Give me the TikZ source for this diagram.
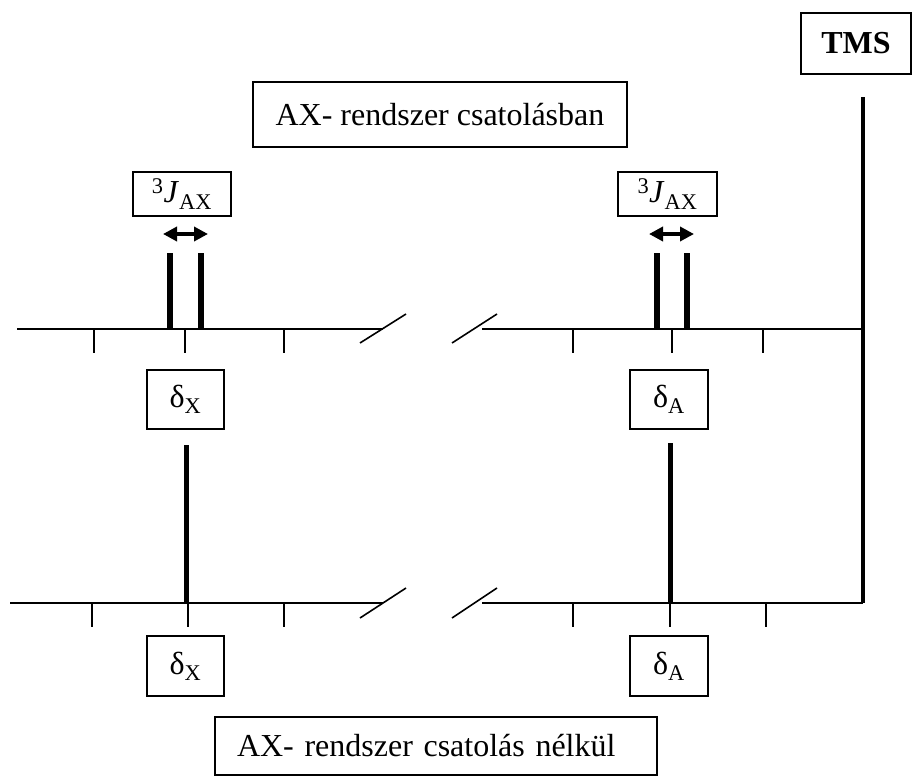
\documentclass[tikz,border=0pt]{standalone}
\usepackage{fontspec}
\setmainfont{Liberation Serif}
\usetikzlibrary{arrows.meta}
\begin{document}
\begin{tikzpicture}[x=1pt,y=-1pt,
  lbl/.style={draw,line width=1.5pt,inner sep=0pt,font=\fontsize{32}{38}\selectfont},
  axisline/.style={line width=1.8pt},
  tickline/.style={line width=1.6pt},
  peak/.style={line width=6pt},
  sharp/.style={line width=5pt},
  dbl/.style={line width=3.5pt,{Triangle[length=14pt,width=14pt]}-{Triangle[length=14pt,width=14pt]}}]
\useasboundingbox (0,0) rectangle (912,776);
% boxes
\node[lbl,minimum width=110pt,minimum height=61pt] (tms) at (856,43.5) {\textbf{TMS}};
\node[lbl,minimum width=374pt,minimum height=65pt] (title1) at (440,114.5) {AX- rendszer csatolásban};
\node[lbl,minimum width=98pt,minimum height=44pt] (jl) at (182,194) {\textsuperscript{3}\textit{J}\textsubscript{AX}};
\node[lbl,minimum width=99pt,minimum height=44pt] (jr) at (667.5,194) {\textsuperscript{3}\textit{J}\textsubscript{AX}};
\node[lbl,minimum width=77pt,minimum height=59pt] (dxu) at (185.5,399.5) {δ\textsubscript{X}};
\node[lbl,minimum width=78pt,minimum height=59pt] (dau) at (669,399.5) {δ\textsubscript{A}};
\node[lbl,minimum width=77pt,minimum height=60pt] (dxl) at (185.5,666) {δ\textsubscript{X}};
\node[lbl,minimum width=78pt,minimum height=60pt] (dal) at (669,666) {δ\textsubscript{A}};
\node[lbl,minimum width=442pt,minimum height=58pt,inner xsep=22pt,text width=398pt,align=left] (title2) at (436,746) {AX- rendszer csatolás nélkül};
% upper axis
\coordinate (ua0) at (17,329); \coordinate (ua1) at (383,329);
\coordinate (ub0) at (482,329); \coordinate (ub1) at (863,329);
\draw[axisline] (ua0) -- (ua1);
\draw[axisline] (ub0) -- (ub1);
\coordinate (us1a) at (360,343); \coordinate (us1b) at (406,314);
\coordinate (us2a) at (452,343); \coordinate (us2b) at (497,314);
\draw[tickline] (us1a) -- (us1b);
\draw[tickline] (us2a) -- (us2b);
\foreach \x in {94,185,284,573,672,763}{
  \draw[tickline] (\x,329) -- (\x,353);}
% upper peaks
\draw[peak] (170,253) -- (170,329);
\draw[peak] (201,253) -- (201,329);
\draw[peak] (657,253) -- (657,329);
\draw[peak] (687,253) -- (687,329);
\draw[dbl] (163,234) -- (208,234);
\draw[dbl] (649,234) -- (694,234);
% lower axis
\coordinate (la0) at (10,603); \coordinate (la1) at (383,603);
\coordinate (lb0) at (482,603); \coordinate (lb1) at (863,603);
\draw[axisline] (la0) -- (la1);
\draw[axisline] (lb0) -- (lb1);
\draw[tickline] (360,618) -- (406,588);
\draw[tickline] (452,618) -- (497,588);
\foreach \x in {92,188,284,573,670,766}{
  \draw[tickline] (\x,603) -- (\x,627);}
\draw[sharp] (186,445) -- (186,603);
\draw[sharp] (670,443) -- (670,603);
% TMS line
\coordinate (tmstop) at (863,97); \coordinate (tmsbot) at (863,603);
\draw[line width=4pt] (tmstop) -- (tmsbot);
\end{tikzpicture}
\end{document}
